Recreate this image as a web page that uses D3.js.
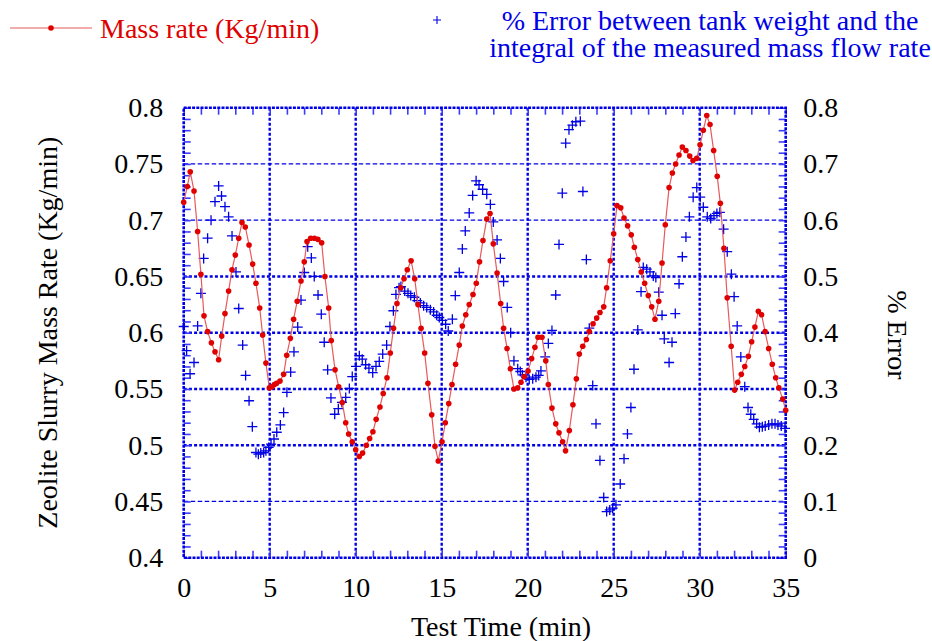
<!DOCTYPE html>
<html>
<head>
<meta charset="utf-8">
<script src="https://cdn.jsdelivr.net/npm/d3@7"></script>
<style>
  body { margin: 0; background: #fff; }
  svg { display: block; }
  text { font-family: "Liberation Serif", "Times New Roman", serif; }
</style>
</head>
<body>
<div id="chart"></div>
<script>
// mass rate samples (min, Kg/min)
var massTime = [0, 0.21, 0.38, 0.6, 0.81, 1.0, 1.18, 1.39, 1.61, 1.82, 2.03, 2.21, 2.4, 2.61, 2.81, 3.0, 3.2, 3.39, 3.58, 3.8,
  4.01, 4.2, 4.42, 4.59, 4.78, 4.98, 5.13, 5.27, 5.4, 5.6, 5.81, 5.99, 6.2, 6.39, 6.6, 6.82, 7.01, 7.17, 7.38, 7.6,
  7.8, 8.02, 8.21, 8.43, 8.58, 8.8, 9.01, 9.22, 9.42, 9.59, 9.8, 10.0, 10.21, 10.4, 10.62, 10.81, 11.0, 11.19, 11.41, 11.6,
  11.82, 12.01, 12.2, 12.4, 12.62, 12.81, 13.0, 13.22, 13.43, 13.62, 13.8, 14.01, 14.2, 14.42, 14.61, 14.8, 15.02, 15.21, 15.41, 15.6,
  15.81, 16.02, 16.2, 16.4, 16.6, 16.82, 17.01, 17.2, 17.4, 17.62, 17.81, 18.0, 18.22, 18.43, 18.6, 18.8, 18.99, 19.2, 19.42, 19.61,
  19.8, 20.02, 20.23, 20.42, 20.6, 20.83, 21.05, 21.2, 21.41, 21.63, 21.82, 22.03, 22.2, 22.42, 22.63, 22.83, 23.0, 23.2, 23.41, 23.58,
  23.8, 24.01, 24.2, 24.42, 24.59, 24.8, 25.0, 25.19, 25.41, 25.6, 25.81, 26.02, 26.2, 26.4, 26.6, 26.8, 27.01, 27.21, 27.4, 27.62,
  27.81, 28.0, 28.22, 28.41, 28.6, 28.8, 28.99, 29.2, 29.42, 29.61, 29.83, 30.02, 30.21, 30.41, 30.6, 30.81, 31.02, 31.2, 31.41, 31.6,
  31.83, 32.03, 32.21, 32.42, 32.62, 32.83, 33.02, 33.21, 33.41, 33.6, 33.8, 34.01, 34.22, 34.42, 34.6, 34.83, 35.0];
var massRate = [0.716, 0.730, 0.743, 0.726, 0.690, 0.652, 0.615, 0.601, 0.591, 0.583, 0.576, 0.597, 0.617, 0.637, 0.656, 0.669, 0.684, 0.698, 0.694, 0.678,
  0.661, 0.644, 0.622, 0.598, 0.573, 0.551, 0.552, 0.554, 0.555, 0.557, 0.563, 0.580, 0.595, 0.612, 0.628, 0.646, 0.663, 0.681, 0.684, 0.684,
  0.683, 0.680, 0.650, 0.622, 0.593, 0.567, 0.552, 0.538, 0.520, 0.510, 0.503, 0.496, 0.490, 0.493, 0.500, 0.506, 0.512, 0.523, 0.534, 0.546,
  0.560, 0.582, 0.604, 0.626, 0.640, 0.648, 0.656, 0.664, 0.648, 0.625, 0.604, 0.582, 0.555, 0.527, 0.499, 0.486, 0.503, 0.520, 0.537, 0.554,
  0.572, 0.589, 0.606, 0.616, 0.625, 0.634, 0.644, 0.663, 0.682, 0.701, 0.706, 0.679, 0.653, 0.626, 0.604, 0.586, 0.568, 0.550, 0.551, 0.556,
  0.561, 0.566, 0.577, 0.587, 0.596, 0.596, 0.575, 0.554, 0.533, 0.519, 0.511, 0.503, 0.495, 0.513, 0.536, 0.559, 0.581, 0.588, 0.594, 0.601,
  0.608, 0.613, 0.618, 0.623, 0.640, 0.664, 0.688, 0.713, 0.711, 0.702, 0.695, 0.687, 0.676, 0.665, 0.654, 0.644, 0.633, 0.623, 0.612, 0.628,
  0.662, 0.696, 0.729, 0.742, 0.750, 0.758, 0.765, 0.762, 0.757, 0.753, 0.755, 0.767, 0.780, 0.793, 0.785, 0.762, 0.739, 0.715, 0.675, 0.631,
  0.588, 0.549, 0.556, 0.563, 0.570, 0.579, 0.592, 0.605, 0.619, 0.616, 0.601, 0.586, 0.572, 0.560, 0.551, 0.541, 0.531];

// % error samples (min, %)
var errTime = [0, 0.17, 0.37, 0.6, 0.81, 1.0, 1.16, 1.39, 1.59, 1.82, 2.03, 2.2, 2.4, 2.61, 2.81, 3.04, 3.2, 3.43, 3.6, 3.8,
  3.99, 4.2, 4.34, 4.48, 4.65, 4.78, 4.94, 5.08, 5.25, 5.41, 5.62, 5.81, 6.0, 6.22, 6.41, 6.63, 6.82, 7.01, 7.21, 7.42,
  7.59, 7.81, 8.0, 8.17, 8.37, 8.56, 8.78, 8.99, 9.2, 9.42, 9.63, 9.8, 10.02, 10.21, 10.38, 10.58, 10.77, 10.99, 11.18, 11.37,
  11.57, 11.8, 11.99, 12.19, 12.34, 12.52, 12.63, 12.85, 13.04, 13.2, 13.41, 13.58, 13.76, 13.95, 14.13, 14.34, 14.53, 14.71, 14.86, 15.04,
  15.23, 15.38, 15.62, 15.79, 16.02, 16.2, 16.37, 16.6, 16.8, 17.0, 17.17, 17.38, 17.62, 17.83, 18.0, 18.22, 18.41, 18.6, 18.81, 19.01,
  19.2, 19.42, 19.57, 19.69, 19.9, 20.09, 20.29, 20.48, 20.64, 20.77, 21.02, 21.2, 21.41, 21.63, 21.82, 22.01, 22.21, 22.4, 22.6, 22.8,
  23.06, 23.21, 23.41, 23.58, 23.78, 23.97, 24.2, 24.42, 24.59, 24.77, 24.94, 25.13, 25.38, 25.6, 25.8, 26.0, 26.18, 26.4, 26.59, 26.72,
  26.92, 27.11, 27.3, 27.45, 27.62, 27.81, 27.94, 28.22, 28.39, 28.58, 28.8, 28.99, 29.2, 29.4, 29.62, 29.83, 30.03, 30.21, 30.44, 30.64,
  30.83, 31.0, 31.17, 31.39, 31.6, 31.84, 32.0, 32.18, 32.39, 32.62, 32.81, 32.97, 33.14, 33.31, 33.47, 33.64, 33.81, 34.01, 34.2, 34.38,
  34.55, 34.74, 34.96];
var errPct = [0.411, 0.368, 0.327, 0.347, 0.412, 0.470, 0.532, 0.568, 0.600, 0.633, 0.661, 0.643, 0.624, 0.606, 0.572, 0.508, 0.443, 0.378, 0.324, 0.279,
  0.233, 0.187, 0.184, 0.186, 0.187, 0.190, 0.196, 0.202, 0.211, 0.223, 0.236, 0.258, 0.294, 0.330, 0.366, 0.410, 0.458, 0.507, 0.553, 0.533,
  0.500, 0.467, 0.433, 0.383, 0.334, 0.284, 0.255, 0.265, 0.276, 0.285, 0.301, 0.322, 0.340, 0.359, 0.353, 0.343, 0.337, 0.329, 0.340, 0.349,
  0.362, 0.378, 0.411, 0.439, 0.468, 0.480, 0.482, 0.474, 0.470, 0.466, 0.463, 0.457, 0.453, 0.448, 0.445, 0.441, 0.437, 0.431, 0.427, 0.422,
  0.415, 0.403, 0.424, 0.466, 0.507, 0.549, 0.581, 0.613, 0.644, 0.670, 0.663, 0.655, 0.646, 0.628, 0.597, 0.565, 0.532, 0.491, 0.445, 0.400,
  0.350, 0.336, 0.331, 0.325, 0.321, 0.317, 0.318, 0.321, 0.324, 0.332, 0.357, 0.381, 0.404, 0.467, 0.557, 0.648, 0.737, 0.761, 0.769, 0.775,
  0.776, 0.651, 0.530, 0.408, 0.306, 0.238, 0.173, 0.107, 0.082, 0.085, 0.088, 0.094, 0.131, 0.176, 0.220, 0.267, 0.335, 0.405, 0.473, 0.516,
  0.513, 0.508, 0.501, 0.498, 0.472, 0.431, 0.389, 0.347, 0.383, 0.434, 0.487, 0.535, 0.570, 0.606, 0.641, 0.658, 0.641, 0.623, 0.606, 0.603,
  0.608, 0.612, 0.614, 0.584, 0.544, 0.504, 0.464, 0.412, 0.357, 0.304, 0.267, 0.255, 0.246, 0.238, 0.232, 0.233, 0.234, 0.236, 0.238, 0.238,
  0.236, 0.234, 0.230];

var xTicks = [0, 5, 10, 15, 20, 25, 30, 35];
var leftTicks = [0.4, 0.45, 0.5, 0.55, 0.6, 0.65, 0.7, 0.75, 0.8];
var leftTickLabels = ["0.4", "0.45", "0.5", "0.55", "0.6", "0.65", "0.7", "0.75", "0.8"];
var rightTicks = [0, 0.1, 0.2, 0.3, 0.4, 0.5, 0.6, 0.7, 0.8];
var rightTickLabels = ["0", "0.1", "0.2", "0.3", "0.4", "0.5", "0.6", "0.7", "0.8"];

var draw = function() {
  var width = 932, height = 641;
  var x0 = 183.7, x1 = 785.7, y0 = 107.7, y1 = 557.7;
  var blue = "#0000e6", red = "#e00000";

  var x = d3.scaleLinear().domain([0, 35]).range([x0, x1]);
  var yL = d3.scaleLinear().domain([0.4, 0.8]).range([y1, y0]);
  var yR = d3.scaleLinear().domain([0, 0.8]).range([y1, y0]);

  var svg = d3.select("#chart").append("svg")
    .attr("width", width)
    .attr("height", height);

  // grid
  var grid = svg.append("g");
  xTicks.slice(1, -1).forEach(function(t) {
    grid.append("line")
      .attr("x1", x(t)).attr("x2", x(t))
      .attr("y1", y0).attr("y2", y1)
      .attr("stroke", blue).attr("stroke-width", 2.4)
      .attr("stroke-dasharray", "3,2");
  });
  leftTicks.slice(1, -1).forEach(function(v) {
    var heavy = v > 0.47 && v < 0.67;
    grid.append("line")
      .attr("x1", x0).attr("x2", x1)
      .attr("y1", yL(v)).attr("y2", yL(v))
      .attr("stroke", blue)
      .attr("stroke-width", heavy ? 2.4 : 1.3)
      .attr("stroke-dasharray", heavy ? "3,2.2" : "4.5,2.5");
  });

  // minor ticks (inside)
  var minorStyle = function(g) {
    g.select(".domain").remove();
    g.selectAll(".tick line").attr("stroke", "#3c3cff").attr("stroke-width", 1.6);
  };
  svg.append("g").attr("transform", "translate(" + x0 + ",0)")
    .call(d3.axisLeft(yL).tickValues(d3.range(0.4, 0.805, 0.01)).tickSize(-7).tickFormat(""))
    .call(minorStyle);
  svg.append("g").attr("transform", "translate(" + x1 + ",0)")
    .call(d3.axisRight(yR).tickValues(d3.range(0, 0.805, 0.02)).tickSize(-7).tickFormat(""))
    .call(minorStyle);
  svg.append("g").attr("transform", "translate(0," + y1 + ")")
    .call(d3.axisBottom(x).tickValues(d3.range(0, 35.5, 1)).tickSize(-7).tickFormat(""))
    .call(minorStyle);
  svg.append("g").attr("transform", "translate(0," + y0 + ")")
    .call(d3.axisTop(x).tickValues(d3.range(0, 35.5, 1)).tickSize(-7).tickFormat(""))
    .call(minorStyle);

  // frame
  svg.append("rect")
    .attr("x", x0).attr("y", y0)
    .attr("width", x1 - x0).attr("height", y1 - y0)
    .attr("fill", "none").attr("stroke", blue)
    .attr("stroke-width", 2.6).attr("stroke-dasharray", "3,1.2");

  // tick labels
  var labelStyle = function(g) {
    g.select(".domain").remove();
    g.selectAll(".tick line").remove();
    g.selectAll("text").attr("font-size", 28).attr("fill", "#000")
      .attr("font-family", "Liberation Serif, Times New Roman, serif");
  };
  svg.append("g").attr("transform", "translate(" + x0 + ",0)")
    .call(d3.axisLeft(yL).tickValues(leftTicks).tickSize(0).tickPadding(20.5)
      .tickFormat(function(d, i) { return leftTickLabels[i]; }))
    .call(labelStyle);
  svg.append("g").attr("transform", "translate(" + x1 + ",0)")
    .call(d3.axisRight(yR).tickValues(rightTicks).tickSize(0).tickPadding(17.5)
      .tickFormat(function(d, i) { return rightTickLabels[i]; }))
    .call(labelStyle);
  svg.append("g").attr("transform", "translate(0," + y1 + ")")
    .call(d3.axisBottom(x).tickValues(xTicks).tickSize(0).tickPadding(19))
    .call(labelStyle);

  // axis titles
  svg.append("text")
    .attr("transform", "translate(57," + ((y0 + y1) / 2) + ") rotate(-90)")
    .attr("text-anchor", "middle").attr("font-size", 28)
    .text("Zeolite Slurry Mass Rate (Kg/min)");
  svg.append("text")
    .attr("x", 501).attr("y", 636)
    .attr("text-anchor", "middle").attr("font-size", 28)
    .text("Test Time (min)");
  svg.append("text")
    .attr("transform", "translate(888,335) rotate(90)")
    .attr("text-anchor", "middle").attr("font-size", 28)
    .text("% Error");

  // error series (+ markers)
  var plus = "M-5,0H5M0,-5V5";
  svg.append("g").selectAll("path")
    .data(errTime)
    .enter().append("path")
    .attr("d", plus)
    .attr("transform", function(d, i) { return "translate(" + x(d) + "," + yR(errPct[i]) + ")"; })
    .attr("fill", "none").attr("stroke", blue).attr("stroke-width", 1.3);

  // mass rate line + dots
  var line = d3.line()
    .x(function(d) { return x(d); })
    .y(function(d, i) { return yL(massRate[i]); });
  svg.append("path")
    .attr("d", line(massTime))
    .attr("fill", "none").attr("stroke", "#e85a5a").attr("stroke-width", 1.2);
  svg.append("g").selectAll("circle")
    .data(massTime)
    .enter().append("circle")
    .attr("cx", function(d) { return x(d); })
    .attr("cy", function(d, i) { return yL(massRate[i]); })
    .attr("r", 2.8)
    .attr("fill", red);

  // legend
  svg.append("line")
    .attr("x1", 10).attr("x2", 92).attr("y1", 28).attr("y2", 28)
    .attr("stroke", "#e85a5a").attr("stroke-width", 1.2);
  svg.append("circle").attr("cx", 51).attr("cy", 28).attr("r", 2.8).attr("fill", red);
  svg.append("text")
    .attr("x", 100).attr("y", 37.5).attr("font-size", 28).attr("fill", red)
    .text("Mass rate (Kg/min)");
  svg.append("path")
    .attr("d", "M-4,0H4M0,-4V4")
    .attr("transform", "translate(437,20)")
    .attr("fill", "none").attr("stroke", blue).attr("stroke-width", 1.1);
  svg.append("text")
    .attr("x", 710).attr("y", 29.5).attr("font-size", 28).attr("fill", blue)
    .attr("text-anchor", "middle")
    .text("% Error between tank weight and the");
  svg.append("text")
    .attr("x", 710).attr("y", 57).attr("font-size", 28).attr("fill", blue)
    .attr("text-anchor", "middle")
    .text("integral of the measured mass flow rate");
};
draw();
</script>
</body>
</html>
